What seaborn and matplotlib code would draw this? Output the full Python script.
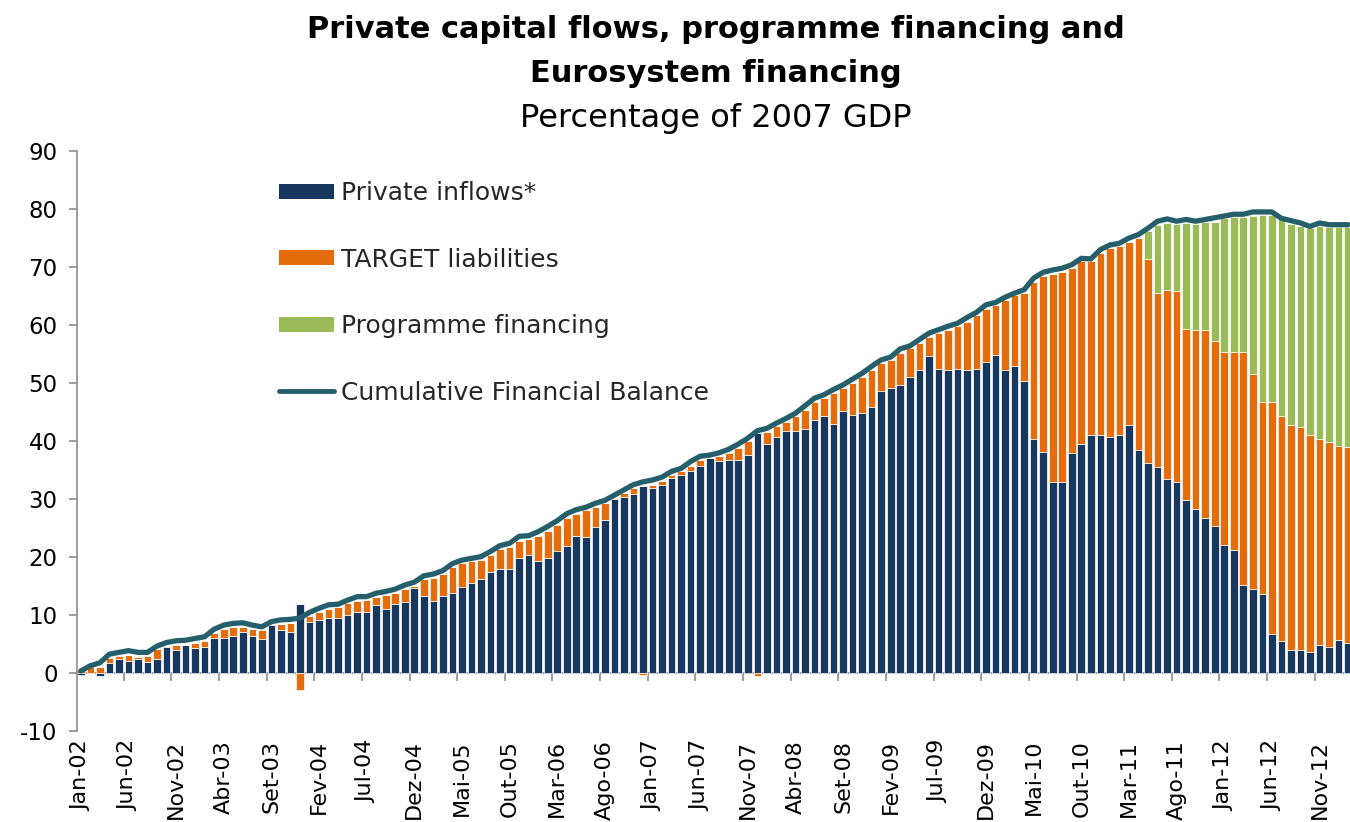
import numpy as np
import pandas as pd
import matplotlib
matplotlib.use("Agg")
import matplotlib.pyplot as plt
import seaborn as sns
from matplotlib.patches import Patch
from matplotlib.lines import Line2D

# Monthly categories, Jan-2002 .. Feb-2013 (Portuguese month abbreviations)
MONTHS_PT = ["Jan", "Fev", "Mar", "Abr", "Mai", "Jun",
             "Jul", "Ago", "Set", "Out", "Nov", "Dez"]
months = [f"{MONTHS_PT[k % 12]}-{2 + k // 12:02d}" for k in range(134)]

# Percentage of 2007 GDP
private_inflows = [
    -0.3, 0.0, -0.4, 1.7, 2.5, 2.2, 2.5, 2.0, 2.5, 4.6,
    4.0, 4.9, 4.4, 4.6, 6.1, 6.1, 6.5, 7.1, 6.5, 5.9,
    8.3, 7.4, 7.1, 12.0, 8.9, 9.2, 9.5, 9.5, 10.1, 10.5,
    10.5, 11.7, 11.0, 12.0, 12.2, 14.7, 13.4, 12.5, 13.4, 13.9,
    14.9, 15.5, 16.2, 17.4, 18.0, 18.0, 19.8, 20.4, 19.3, 19.8,
    21.0, 21.9, 23.7, 23.4, 25.2, 26.4, 30.1, 30.4, 30.9, 32.3,
    31.9, 32.5, 33.7, 34.1, 34.9, 35.8, 37.1, 36.5, 36.8, 36.8,
    37.6, 41.4, 39.5, 40.7, 41.8, 41.7, 42.1, 43.7, 44.3, 43.0,
    45.2, 44.5, 44.9, 45.8, 48.6, 49.1, 49.7, 51.0, 52.2, 54.6,
    52.5, 52.2, 52.5, 52.2, 52.5, 53.7, 54.9, 52.2, 53.0, 50.4,
    40.4, 38.2, 32.9, 32.9, 38.0, 39.5, 41.0, 41.0, 40.7, 41.0,
    42.8, 38.5, 36.2, 35.6, 33.4, 32.9, 29.8, 28.3, 26.8, 25.3,
    22.1, 21.2, 15.2, 14.5, 13.7, 6.8, 5.6, 4.0, 4.0, 3.7,
    4.9, 4.6, 5.8, 5.3,
]

target_liabilities = [
    0.6, 1.1, 1.1, 0.9, 0.4, 0.9, 0.3, 0.9, 1.6, 0.1,
    0.9, 0.0, 0.9, 1.0, 0.8, 1.6, 1.4, 0.8, 1.1, 1.6,
    0.0, 1.1, 1.5, -2.9, 1.0, 1.3, 1.5, 2.0, 2.0, 2.0,
    2.1, 1.5, 2.5, 1.8, 2.3, 0.3, 2.9, 4.0, 3.7, 4.4,
    4.1, 3.8, 3.3, 3.0, 3.4, 3.8, 3.0, 2.8, 4.4, 4.8,
    4.6, 4.8, 3.8, 4.7, 3.4, 2.9, 0.1, 0.6, 1.0, -0.3,
    0.6, 0.7, 0.4, 0.7, 0.8, 1.0, 0.0, 0.9, 1.1, 2.1,
    2.4, -0.5, 2.1, 1.9, 1.5, 2.6, 3.3, 3.1, 3.1, 5.3,
    3.9, 5.5, 6.2, 6.5, 4.8, 4.8, 5.5, 5.0, 4.7, 3.4,
    6.1, 7.0, 7.3, 8.4, 9.2, 9.1, 8.5, 12.2, 12.1, 15.2,
    27.0, 30.2, 35.9, 36.2, 31.8, 31.5, 30.0, 31.4, 32.6, 32.7,
    31.6, 36.5, 35.2, 29.9, 32.6, 32.9, 29.6, 30.8, 32.3, 32.0,
    33.2, 34.1, 40.1, 37.1, 33.0, 39.9, 38.7, 38.8, 38.5, 37.3,
    35.5, 35.2, 33.4, 33.7,
]

programme_financing = [0.0] * 112 + [
    4.8, 11.8, 11.6, 11.7, 18.2, 18.4, 18.6, 20.5,
    23.1, 23.3, 23.3, 27.2, 32.3, 32.3, 33.9, 34.7, 34.6, 35.7,
    36.6, 37.1, 37.7, 37.9,
]

cumulative_balance = [
    0.4, 1.3, 1.8, 3.3, 3.6, 3.9, 3.6, 3.6, 4.7, 5.3,
    5.6, 5.7, 6.0, 6.3, 7.6, 8.3, 8.6, 8.7, 8.3, 8.0,
    8.9, 9.2, 9.3, 9.5, 10.5, 11.2, 11.8, 11.9, 12.6, 13.2,
    13.2, 13.8, 14.1, 14.5, 15.2, 15.7, 16.8, 17.1, 17.7, 18.9,
    19.5, 19.8, 20.1, 21.0, 22.0, 22.4, 23.6, 23.7, 24.4, 25.3,
    26.3, 27.5, 28.2, 28.6, 29.3, 29.8, 30.7, 31.6, 32.5, 33.0,
    33.3, 33.8, 34.8, 35.3, 36.5, 37.4, 37.6, 38.0, 38.6, 39.5,
    40.5, 41.8, 42.2, 43.1, 43.9, 44.8, 46.1, 47.4, 48.0, 48.9,
    49.7, 50.7, 51.7, 52.9, 54.0, 54.5, 55.9, 56.4, 57.5, 58.6,
    59.2, 59.8, 60.3, 61.3, 62.2, 63.5, 63.9, 64.8, 65.5, 66.1,
    68.1, 69.1, 69.5, 69.8, 70.4, 71.5, 71.4, 73.0, 73.8, 74.1,
    75.0, 75.6, 76.7, 77.9, 78.3, 77.9, 78.2, 77.9, 78.2, 78.5,
    78.8, 79.1, 79.1, 79.5, 79.5, 79.5, 78.4, 78.0, 77.6, 77.0,
    77.6, 77.3, 77.3, 77.3,
]

label_every = 5
y_ticks = list(range(-10, 91, 10))

series_names = ["Private inflows*", "TARGET liabilities", "Programme financing"]
series_values = [private_inflows, target_liabilities, programme_financing]
series_colors = ["#17375E", "#E46C0A", "#9BBB59"]
line_name = "Cumulative Financial Balance"
line_color = "#245F6B"

sns.set_theme(style="white")
plt.rcParams["font.family"] = ["DejaVu Sans"]

fig = plt.figure(figsize=(13.5, 8.22), dpi=100)
W, H = 1350, 822
ax = fig.add_axes([77 / W, 1 - 731.3 / H, 1273 / W, (731.3 - 151) / H])

# Stacked bars: positive parts stack upward, negative parts downward from zero
n = len(months)
pos_base = np.zeros(n)
neg_base = np.zeros(n)
for name, vals, col in zip(series_names, series_values, series_colors):
    v = np.asarray(vals, dtype=float)
    bottom = np.where(v >= 0, pos_base, neg_base)
    sns.barplot(x=months, y=v, order=months, bottom=bottom, color=col,
                saturation=1, width=0.8, errorbar=None,
                edgecolor="white", linewidth=0.5, ax=ax, zorder=2)
    pos_base += np.clip(v, 0, None)
    neg_base += np.clip(v, None, 0)

sns.lineplot(x=np.arange(n), y=cumulative_balance, color=line_color,
             linewidth=3.8, ax=ax, zorder=3, sort=False)

ax.set_xlim(-0.4, 133.2)
ax.set_ylim(-10, 90)

# Axes styling
for side in ["top", "right"]:
    ax.spines[side].set_visible(False)
ax.spines["left"].set_color("#8C8C8C")
ax.spines["left"].set_linewidth(1.2)
ax.spines["bottom"].set_position(("data", 0))
ax.spines["bottom"].set_color("#8C8C8C")
ax.spines["bottom"].set_linewidth(1.2)
ax.spines["bottom"].set_zorder(1)

ax.set_yticks(y_ticks)
ax.set_yticklabels([str(t) for t in y_ticks])
ax.tick_params(axis="y", direction="out", length=6, width=1.2,
               color="#8C8C8C", labelsize=16.5, labelcolor="black", pad=8, left=True)

tick_pos = list(range(0, n, label_every))
ax.set_xticks(tick_pos)
ax.set_xticklabels([months[k] for k in tick_pos], rotation=90)
ax.set_xticks([k + label_every - 0.5 for k in tick_pos if k + label_every - 0.5 < n],
              minor=True)
ax.tick_params(axis="x", which="major", length=0, labelsize=16,
               labelcolor="black", pad=48, bottom=True)
ax.tick_params(axis="x", which="minor", direction="out", length=6, width=1.2,
               color="#8C8C8C", bottom=True)
ax.set_xlabel("")
ax.set_ylabel("")
ax.grid(False)

# Legend inside the plot area
handles = [Patch(facecolor=c, edgecolor="none") for c in series_colors]
handles.append(Line2D([], [], color=line_color, linewidth=3.5))
leg = ax.legend(handles, series_names + [line_name],
                loc="upper left", bbox_to_anchor=(0.159, 0.948),
                frameon=False, fontsize=18, handlelength=2.2, handleheight=0.56,
                handletextpad=0.25, labelspacing=1.7, borderpad=0,
                borderaxespad=0)

# Titles
title_kw = dict(ha="center", va="baseline", color="black", family=["DejaVu Sans"])
fig.text(0.530, 1 - 38 / H, "Private capital flows, programme financing and",
         fontsize=22, fontweight="bold", **title_kw)
fig.text(0.530, 1 - 82 / H, "Eurosystem financing",
         fontsize=22, fontweight="bold", **title_kw)
fig.text(0.530, 1 - 127 / H, "Percentage of 2007 GDP",
         fontsize=23, **title_kw)

fig.savefig("out.png", dpi=100)
